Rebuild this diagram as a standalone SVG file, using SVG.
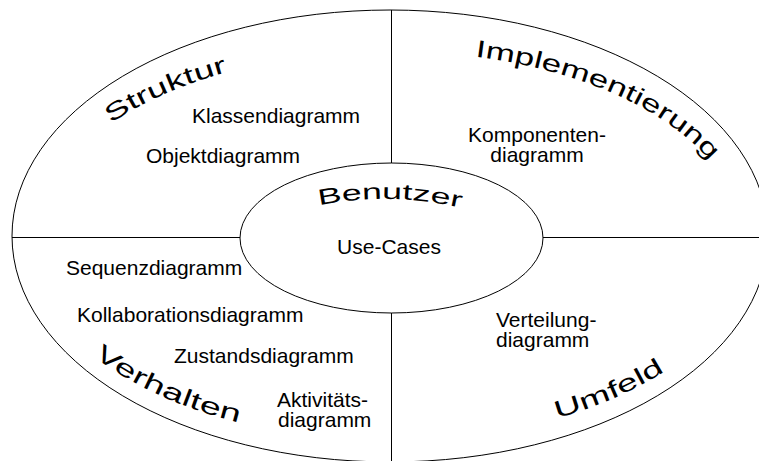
<svg xmlns="http://www.w3.org/2000/svg" xmlns:xlink="http://www.w3.org/1999/xlink" width="759" height="461" viewBox="0 0 759 461">
  <style>
    .ln{fill:none;stroke:#000;stroke-width:1}
    .lbl{font-family:"Liberation Sans",Arial,Helvetica,sans-serif;font-size:21px;fill:#000}
    .area{font-family:"Liberation Sans",Arial,Helvetica,sans-serif;font-size:24px;fill:#000}
    .mid{text-anchor:middle}
  </style>
  <defs>
    <!-- baselines for the curved area titles -->
    <path id="arc-struktur" d="M111,123.5 A350,185 0 0 1 250,66.4"/>
    <path id="arc-impl" d="M475,56.5 A350,185 0 0 1 740,236"/>
    <path id="arc-verhalten" d="M94,356.6 A366,205 0 0 0 300,434.7"/>
    <path id="arc-umfeld" d="M557,418.4 A366,205 0 0 0 720,324.7"/>
    <path id="arc-benutzer" d="M319,205.5 Q392,190.5 468,209.5"/>
  </defs>

  <!-- outer ring -->
  <g id="frame">
    <ellipse class="ln" cx="390" cy="236" rx="378" ry="226"/>
  </g>
  <!-- dividing lines between the four areas -->
  <g id="connectors">
    <line class="ln" x1="391.5" y1="10" x2="391.5" y2="163"/>
    <line class="ln" x1="391.5" y1="313" x2="391.5" y2="461"/>
    <line class="ln" x1="12" y1="237.5" x2="240" y2="237.5"/>
    <line class="ln" x1="543" y1="237.5" x2="759" y2="237.5"/>
  </g>

  <!-- centre: users -->
  <g id="benutzer">
    <ellipse class="ln" cx="391.5" cy="238" rx="151.5" ry="75"/>
    <text class="area" style="font-size:22px"><textPath xlink:href="#arc-benutzer" href="#arc-benutzer" textLength="143" lengthAdjust="spacingAndGlyphs">Benutzer</textPath></text>
    <text class="lbl mid" x="389" y="254">Use-Cases</text>
  </g>

  <!-- upper left: structure -->
  <g id="struktur">
    <text class="area"><textPath xlink:href="#arc-struktur" href="#arc-struktur" textLength="128" lengthAdjust="spacingAndGlyphs">Struktur</textPath></text>
    <text class="lbl" x="192" y="123">Klassendiagramm</text>
    <text class="lbl" x="146" y="163">Objektdiagramm</text>
  </g>

  <!-- upper right: implementation -->
  <g id="implementierung">
    <text class="area"><textPath xlink:href="#arc-impl" href="#arc-impl" textLength="262" lengthAdjust="spacingAndGlyphs">Implementierung</textPath></text>
    <text class="lbl mid" x="537" y="142">Komponenten-</text>
    <text class="lbl mid" x="537" y="162">diagramm</text>
  </g>

  <!-- lower left: behaviour -->
  <g id="verhalten">
    <text class="area"><textPath xlink:href="#arc-verhalten" href="#arc-verhalten" textLength="160" lengthAdjust="spacingAndGlyphs">Verhalten</textPath></text>
    <text class="lbl" x="66" y="275">Sequenzdiagramm</text>
    <text class="lbl" x="77" y="322">Kollaborationsdiagramm</text>
    <text class="lbl" x="174" y="363">Zustandsdiagramm</text>
    <text class="lbl" x="277" y="407">Aktivitäts-</text>
    <text class="lbl" x="278" y="427">diagramm</text>
  </g>

  <!-- lower right: environment -->
  <g id="umfeld">
    <text class="area"><textPath xlink:href="#arc-umfeld" href="#arc-umfeld" textLength="118" lengthAdjust="spacingAndGlyphs">Umfeld</textPath></text>
    <text class="lbl" x="496" y="327">Verteilung-</text>
    <text class="lbl" x="496" y="347">diagramm</text>
  </g>
</svg>
